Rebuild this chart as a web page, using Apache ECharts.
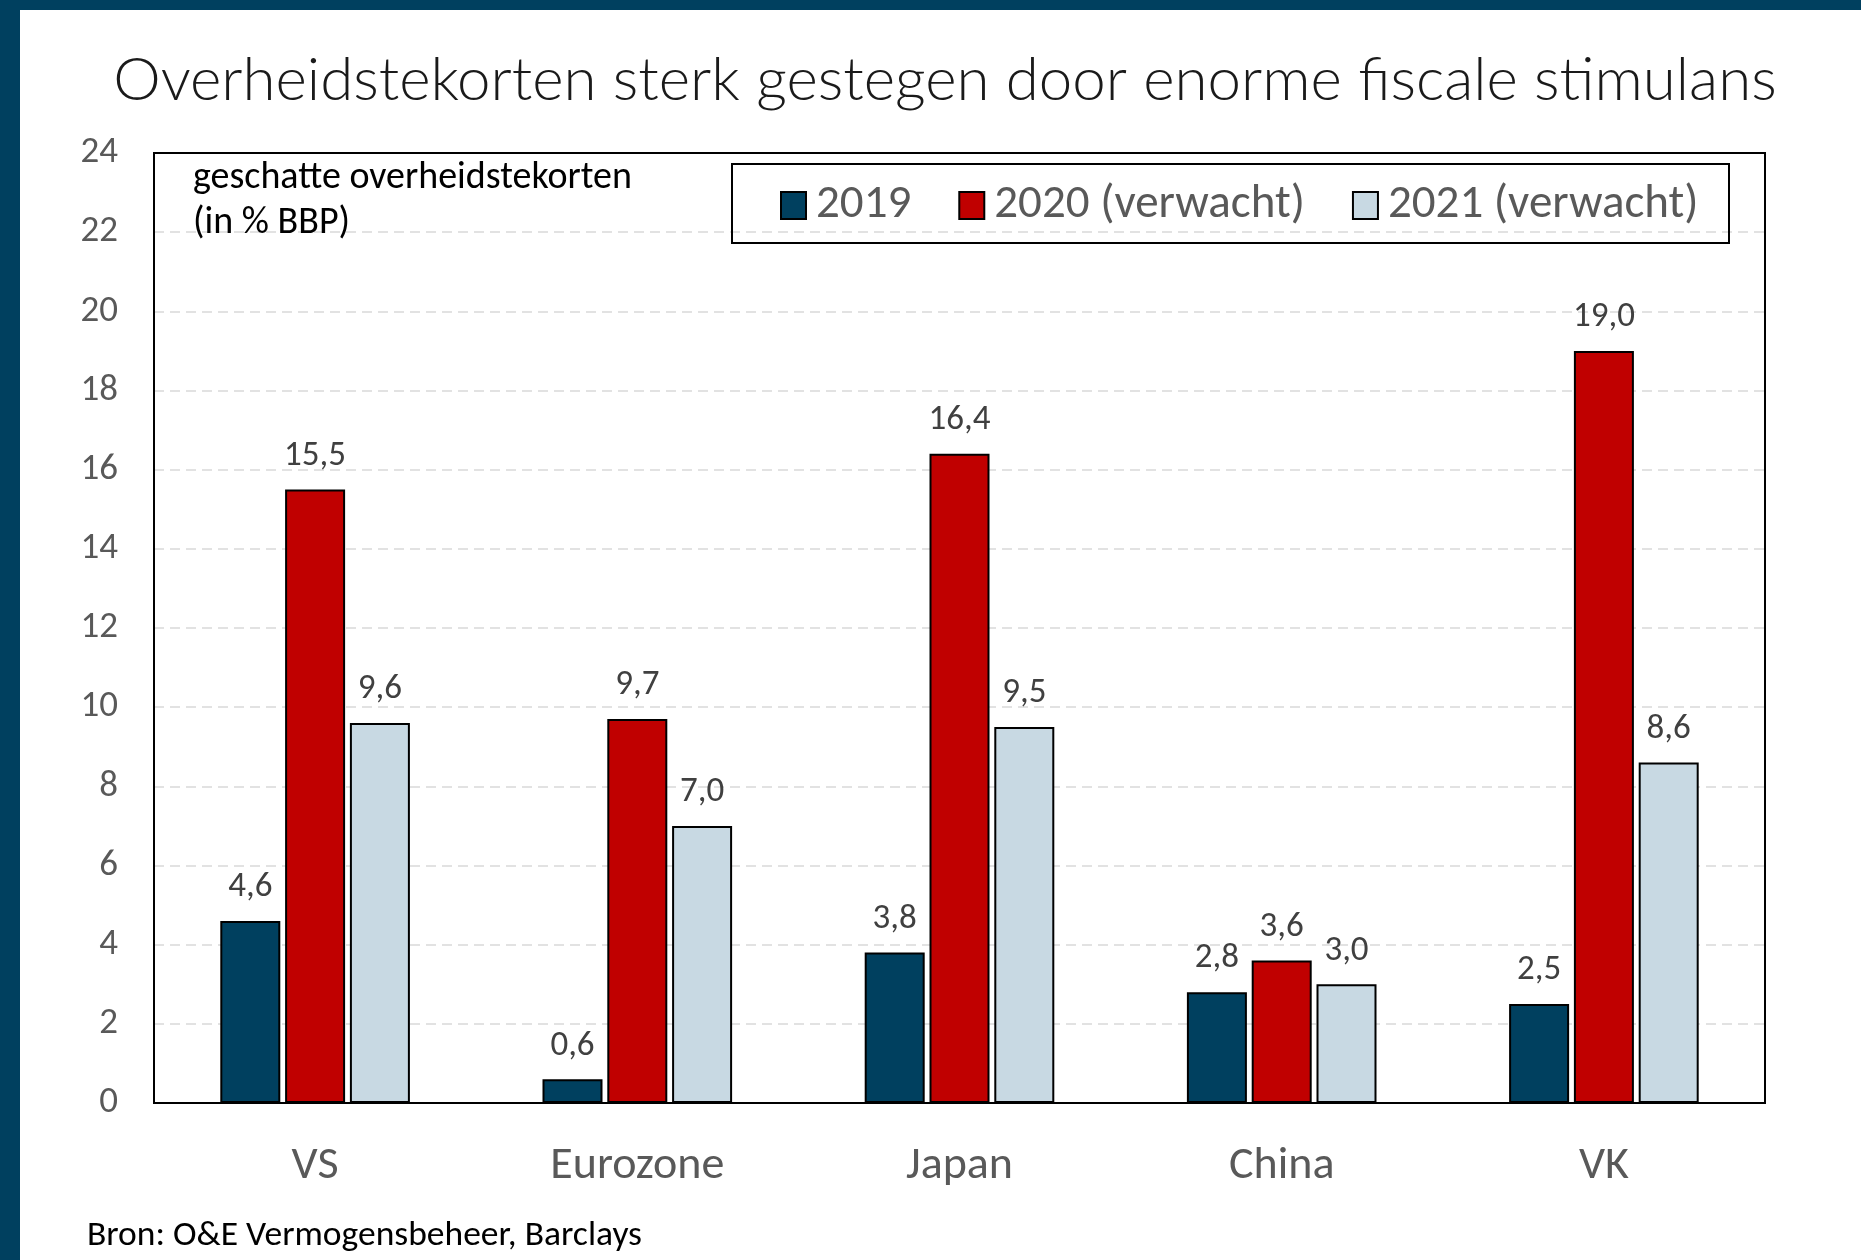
<!DOCTYPE html>
<html>
<head>
<meta charset="utf-8">
<script src="https://cdn.jsdelivr.net/npm/echarts@6/dist/echarts.min.js"></script>
<style>
html,body{margin:0;padding:0;background:#fff;}
#chart{width:1861px;height:1260px;}
</style>
</head>
<body>
<div id="chart"></div>
<script>
const categories = ['VS', 'Eurozone', 'Japan', 'China', 'VK'];
const seriesNames = ['2019', '2020 (verwacht)', '2021 (verwacht)'];
const values2019 = [4.6, 0.6, 3.8, 2.8, 2.5];
const values2020 = [15.5, 9.7, 16.4, 3.6, 19.0];
const values2021 = [9.6, 7.0, 9.5, 3.0, 8.6];
const yTicks = [0, 2, 4, 6, 8, 10, 12, 14, 16, 18, 20, 22, 24];

const FONT = 'Carlito, Lato, sans-serif';
const TITLE_FONT = '"Lato Light", "Open Sans Light", Lato, sans-serif';
const colors = ['#00405F', '#C00000', '#C8D9E3'];

const chart = echarts.init(document.getElementById('chart'), null, {renderer: 'canvas'});

function mkSeries(name, data, color) {
  return {
    name: name,
    type: 'bar',
    data: data,
    barWidth: 60,
    barGap: '8%',
    itemStyle: {color: color, borderColor: '#000', borderWidth: 2},
    label: {
      show: true,
      position: 'top',
      distance: 16,
      color: '#404040',
      fontFamily: FONT,
      fontSize: 35,
      formatter: p => p.value.toFixed(1).replace('.', ',')
    }
  };
}

const option = {
  backgroundColor: '#fff',
  animation: false,
  title: {
    text: 'Overheidstekorten sterk gestegen door enorme fiscale stimulans',
    left: 940,
    textAlign: 'center',
    top: 46,
    textStyle: {fontFamily: TITLE_FONT, fontWeight: 300, fontSize: 60, color: '#1a1a1a'}
  },
  legend: {
    data: seriesNames,
    left: 775,
    top: 177,
    icon: 'rect',
    itemWidth: 25,
    itemHeight: 27,
    itemGap: 47,
    textStyle: {fontFamily: FONT, fontSize: 47, color: '#595959', padding: [0, 0, 0, 5]}
  },
  grid: {
    left: 154, top: 153, width: 1611, height: 950,
    show: true, borderColor: '#000', borderWidth: 2, containLabel: false
  },
  xAxis: [{
    type: 'category',
    data: categories,
    axisLine: {lineStyle: {color: '#000', width: 2}},
    axisTick: {show: false},
    axisLabel: {fontFamily: FONT, fontSize: 46, color: '#595959', margin: 40}
  }, {
    type: 'category',
    position: 'top',
    data: categories,
    axisLine: {show: true, lineStyle: {color: '#000', width: 2}},
    axisTick: {show: false},
    axisLabel: {show: false},
    splitLine: {show: false}
  }],
  yAxis: {
    type: 'value',
    min: yTicks[0],
    max: yTicks[yTicks.length - 1],
    interval: 2,
    axisLine: {show: true, lineStyle: {color: '#000', width: 2}},
    axisTick: {show: false},
    axisLabel: {fontFamily: FONT, fontSize: 37, color: '#595959', margin: 36},
    splitLine: {show: true, lineStyle: {color: '#D9D9D9', width: 1.5, type: [10, 6]}}
  },
  graphic: [
    {type: 'rect', shape: {x: 0, y: 0, width: 1861, height: 10}, style: {fill: '#00405F'}, z: 100},
    {type: 'rect', shape: {x: 0, y: 0, width: 20, height: 1260}, style: {fill: '#00405F'}, z: 100},
    {type: 'rect', shape: {x: 732, y: 164, width: 997, height: 79}, style: {fill: 'none', stroke: '#000', lineWidth: 2}, z: 50},
    {type: 'text', left: 193, top: 156, style: {text: 'geschatte overheidstekorten\n(in % BBP)', font: '38px ' + FONT, fill: '#000', lineHeight: 45}, z: 50},
    {type: 'text', left: 87, top: 1218, style: {text: 'Bron: O&E Vermogensbeheer, Barclays', font: '35.5px ' + FONT, fill: '#000'}, z: 50}
  ],
  series: [
    mkSeries(seriesNames[0], values2019, colors[0]),
    mkSeries(seriesNames[1], values2020, colors[1]),
    mkSeries(seriesNames[2], values2021, colors[2])
  ]
};
chart.setOption(option);
</script>
</body>
</html>
